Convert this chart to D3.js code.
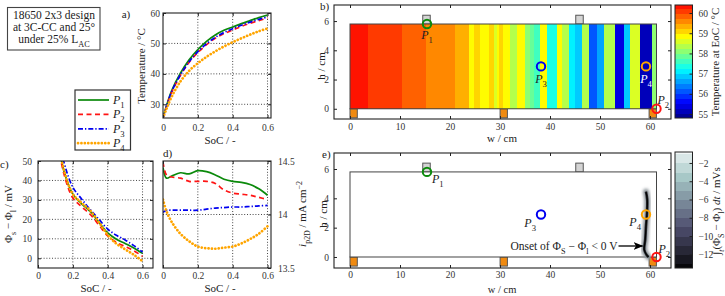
<!DOCTYPE html>
<html><head><meta charset="utf-8">
<script src="https://cdn.jsdelivr.net/npm/d3@7"></script>
<style>
html,body{margin:0;padding:0;background:#fff;}
svg{display:block;}
</style></head><body>
<svg id="chart" width="725" height="296"></svg>
<script>
// ---------------- data ----------------
const seriesNames = ['P1','P2','P3','P4'];
const socA   = [0,0.02,0.05,0.1,0.15,0.2,0.25,0.3,0.35,0.4,0.45,0.5,0.55,0.6];
const tempP1 = [25.5,29.5,34.5,40.2,44.6,48.0,50.7,52.8,54.3,55.4,56.5,57.5,58.5,59.3];
const tempP2 = [25.5,29.2,34.0,39.5,43.8,47.0,49.6,51.7,53.2,54.4,55.6,56.6,57.5,58.3];
const tempP3 = [25.5,29.3,34.2,39.7,44.0,47.3,49.9,52.0,53.6,54.8,56.0,57.0,57.9,58.7];
const tempP4 = [25.5,28.5,32.5,37.5,41.0,43.5,45.6,47.4,49.0,50.4,51.7,52.9,54.0,54.9];

const socC  = [0.10,0.15,0.2,0.25,0.3,0.35,0.4,0.45,0.5,0.55,0.6];
const phiP1 = [68,44.5,33,28,24,18.5,13,9.8,7.6,5.3,2.5];
const phiP2 = [66,43,31,26.5,22.5,17,11.5,8.2,6.0,3.9,1.0];
const phiP3 = [72,49,36.5,30.5,25,20,15,11.8,9.4,6.5,3.2];
const phiP4 = [68,45,33,28.5,24.5,18.5,12.0,7.5,4.6,1.8,-1.5];

const socD = [0,0.02,0.05,0.1,0.15,0.2,0.25,0.3,0.35,0.4,0.45,0.5,0.55,0.6];
const ipP1 = [14.44,14.34,14.36,14.39,14.38,14.41,14.40,14.37,14.33,14.31,14.30,14.28,14.24,14.18];
const ipP2 = [14.49,14.37,14.35,14.34,14.31,14.31,14.31,14.29,14.23,14.20,14.19,14.18,14.16,14.14];
const ipP3 = [14.02,14.04,14.04,14.04,14.04,14.04,14.05,14.06,14.065,14.07,14.07,14.075,14.08,14.085];
const ipP4 = [14.14,14.03,13.93,13.82,13.75,13.70,13.685,13.68,13.69,13.70,13.73,13.77,13.82,13.89];

// temperature at EoC, vertical bands along w (cm): band start and value (°C)
const stripeW = [0,3.5,10.3,15.2,21.0,23.7,24.7,26.0,27.7,28.7,29.3,29.7,30.5,32.0,33.3,35.0,36.0,36.7,38.0,39.3,41.3,42.3,43.7,45.0,46.3,47.7,49.3,50.7,53.0,54.7,56.0,58.0,60.3];
const stripeT = [60.4,60.1,59.9,59.6,59.35,58.95,59.15,58.9,59.1,58.6,58.9,59.2,58.9,58.4,58.85,58.2,57.9,57.6,58.9,57.4,58.9,58.3,57.1,56.8,58.4,56.1,56.7,58.4,55.4,56.9,58.5,55.1,58.2];
const cellW = 61.3, cellH = 5.8;
const topTabW = [15.3,45.9];
const bottomTabW = [0.73,30.75,60.55];
const pointW = [15.4,61.3,38.2,59.2];
const pointH = [5.8,0,2.9,2.9];
// region where Φs − Φl < 0 (integral streak)
const streakW = [59.2,59.45,59.4,59.2,59.05,58.85,59.3,59.7];
const streakH = [4.45,3.9,3.0,2.1,1.2,0.5,0.15,0.0];

const ticksSoC = [0,0.2,0.4,0.6];
const ticksTemp = [30,40,50,60];
const ticksPhi = [0,10,20,30,40,50];
const ticksIp = [13.5,14,14.5];
const ticksW = [0,10,20,30,40,50,60];
const ticksH = [0,2,4,6];
const ticksCbT = [55,56,57,58,59,60];
const ticksCbI = [-12,-10,-8,-6,-4,-2];

// ---------------- setup ----------------
const SERIF = '"Liberation Serif","Times New Roman",serif';
const svg = d3.select('#chart').attr('font-family', SERIF);
const defs = svg.append('defs');
const INK = '#222';

const styles = [
  {color:'#0b8a0b', dash:null, w:1.7, cap:'butt'},
  {color:'#ff1414', dash:'5,3.5', w:1.7, cap:'butt'},
  {color:'#0000f0', dash:'5,2,1.3,2', w:1.7, cap:'butt'},
  {color:'#ffa500', dash:'0.1,3.3', w:2.7, cap:'round'}
];

function rich(text, parts, size){
  let off = 0;
  parts.forEach(p => {
    const [t, k] = p;
    const target = k && k.includes('s') ? size*0.32 : (k && k.includes('u') ? -size*0.4 : 0);
    const ts = text.append('tspan').text(t).attr('dy', (target-off).toFixed(2));
    off = target;
    if (k && (k.includes('s')||k.includes('u'))) ts.attr('font-size', size*0.72);
    if (k && k.includes('i')) ts.attr('font-style','italic');
  });
  return text;
}
function label(x, y, parts, size, anchor, rot, fill){
  const t = svg.append('text').attr('font-size', size).attr('fill', fill||INK)
    .attr('text-anchor', anchor||'middle')
    .attr('transform', `translate(${x},${y})` + (rot ? ` rotate(${rot})` : ''));
  return rich(t, parts, size);
}
function clipRect(id, x, y){
  const [x0,x1] = x.range(), [yb,yt] = y.range();
  defs.append('clipPath').attr('id', id).append('rect')
    .attr('x', x0).attr('y', yt).attr('width', x1-x0).attr('height', yb-yt);
}
function frame(x, y){
  const [x0,x1] = x.range(), [yb,yt] = y.range();
  svg.append('rect').attr('x',x0).attr('y',yt).attr('width',x1-x0).attr('height',yb-yt)
    .attr('fill','none').attr('stroke',INK).attr('stroke-width',1.1);
}
function grid(x, y, xs, ys){
  const [x0,x1] = x.range(), [yb,yt] = y.range();
  const g = svg.append('g').attr('stroke','#333').attr('stroke-width',0.9).attr('stroke-dasharray','1,1.8');
  xs.forEach(v => g.append('line').attr('x1',x(v)).attr('x2',x(v)).attr('y1',yb).attr('y2',yt));
  ys.forEach(v => g.append('line').attr('y1',y(v)).attr('y2',y(v)).attr('x1',x0).attr('x2',x1));
}
function styleAxis(g){
  g.select('.domain').remove();
  g.attr('font-family', SERIF).attr('font-size', 9.5);
  g.selectAll('line').attr('stroke', INK);
  g.selectAll('text').attr('fill', '#333');
}
function axes(x, y, o){
  const [x0,x1] = x.range(), [yb,yt] = y.range();
  svg.append('g').attr('transform',`translate(0,${yb})`)
    .call(d3.axisBottom(x).tickValues(o.xt).tickSize(-3).tickPadding(o.xp).tickFormat(o.xf)).call(styleAxis);
  svg.append('g').attr('transform',`translate(0,${yt})`)
    .call(d3.axisTop(x).tickValues(o.xt).tickSize(-3).tickFormat('')).call(styleAxis);
  if (o.yt){
    svg.append('g').attr('transform',`translate(${x0},0)`)
      .call(d3.axisLeft(y).tickValues(o.yt).tickSize(-3).tickPadding(o.yp).tickFormat(o.yf||'')).call(styleAxis);
    svg.append('g').attr('transform',`translate(${x1},0)`)
      .call(d3.axisRight(y).tickValues(o.yt).tickSize(-3).tickFormat('')).call(styleAxis);
  }
}
const fSoC = d => d === 0 ? '0' : d3.format('.1f')(d);
function drawSeries(x, y, xs, ys, clipId){
  const g = svg.append('g').attr('clip-path', `url(#${clipId})`);
  ys.forEach((vals, i) => {
    const st = styles[i];
    const line = d3.line().x((d,j) => x(xs[j])).y(d => y(d)).curve(d3.curveCatmullRom.alpha(0.5));
    g.append('path').attr('d', line(vals)).attr('fill','none')
      .attr('stroke', st.color).attr('stroke-width', st.w)
      .attr('stroke-dasharray', st.dash).attr('stroke-linecap', st.cap);
  });
}

// ---------------- title box ----------------
svg.append('rect').attr('x',7.5).attr('y',7.5).attr('width',92.5).attr('height',42.5)
  .attr('fill','#fff').attr('stroke','#444').attr('stroke-width',1.1);
label(54, 18.5, [['18650 2x3 design']], 11.5);
label(54, 31, [['at 3C-CC and 25°']], 11.5);
label(54, 43, [['under 25% L'],['AC','s']], 11.5);

// ---------------- a) temperature ----------------
const xA = d3.scaleLinear([0,0.62],[163,271]);
const yA = d3.scaleLinear([25.5,60],[118,13]);
grid(xA, yA, [0.2,0.4,0.6], [30,40,50]);
clipRect('clipA', xA, yA);
drawSeries(xA, yA, socA, [tempP1,tempP2,tempP3,tempP4], 'clipA');
axes(xA, yA, {xt:ticksSoC, xp:6, xf:fSoC, yt:ticksTemp, yp:3, yf:d3.format('d')});
frame(xA, yA);
label(126, 18, [['a)']], 11);
label(220, 144, [['SoC / -']], 11);
label(145, 66, [['Temperature / °C']], 11, 'middle', -90);

// legend
svg.append('rect').attr('x',75).attr('y',90).attr('width',55.5).attr('height',60)
  .attr('fill','#fff').attr('stroke','#333').attr('stroke-width',1.2);
seriesNames.forEach((n, i) => {
  const yy = 100 + i*14.4, st = styles[i];
  svg.append('line').attr('x1',78).attr('x2',109).attr('y1',yy).attr('y2',yy)
    .attr('stroke',st.color).attr('stroke-width',st.w).attr('stroke-dasharray',st.dash).attr('stroke-linecap',st.cap);
  label(113, yy+4, [['P','i'],[n.slice(1),'s']], 12, 'start');
});

// ---------------- c) overpotential ----------------
const xC = d3.scaleLinear([0,0.66],[38,153]);
const yC = d3.scaleLinear([-5,50],[268,161]);
grid(xC, yC, [0.2,0.4,0.6], [0,10,20,30,40]);
clipRect('clipC', xC, yC);
drawSeries(xC, yC, socC, [phiP1,phiP2,phiP3,phiP4], 'clipC');
axes(xC, yC, {xt:ticksSoC, xp:4, xf:fSoC, yt:ticksPhi, yp:6, yf:d3.format('d')});
frame(xC, yC);
label(0, 168, [['c)']], 11, 'start');
label(96, 292, [['SoC / -']], 11);
label(12, 214, [['Φ'],['s','s'],[' − Φ'],['l','s'],[' / mV']], 11, 'middle', -90);

// ---------------- d) current density ----------------
const xD = d3.scaleLinear([0,0.62],[163,271]);
const yD = d3.scaleLinear([13.5,14.5],[268,161]);
grid(xD, yD, [0.2,0.4,0.6], [14]);
clipRect('clipD', xD, yD);
drawSeries(xD, yD, socD, [ipP1,ipP2,ipP3,ipP4], 'clipD');
axes(xD, yD, {xt:ticksSoC, xp:4, xf:fSoC});
svg.append('g').attr('transform',`translate(271,0)`)
  .call(d3.axisRight(yD).tickValues(ticksIp).tickSize(-3).tickPadding(7).tickFormat(d3.format('~g'))).call(styleAxis);
frame(xD, yD);
label(163, 157, [['d)']], 11, 'start');
label(220, 292, [['SoC / -']], 11);
label(306, 214, [['i','i'],['p2D','s'],[' / mA cm'],['−2','u']], 11, 'middle', -90);

// ---------------- b) temperature map ----------------
const xB = d3.scaleLinear([-3.2,64.2],[334,671]);
const yB = d3.scaleLinear([-0.7,7.1],[119,5]);
const jet = t => {
  const c = v => Math.max(0, Math.min(1, v));
  return d3.rgb(255*c(1.5-Math.abs(4*t-3)), 255*c(1.5-Math.abs(4*t-2)), 255*c(1.5-Math.abs(4*t-1))).formatHex();
};
const tLo = 54.75, tHi = 60.5, tStep = 0.25;
const nT = Math.round((tHi-tLo)/tStep);
const tempColor = d3.scaleQuantize().domain([tLo,tHi])
  .range(d3.range(nT).map(k => jet(0.875*(k+0.5)/nT)));

function cellTabs(x, y){
  topTabW.forEach(w => svg.append('rect').attr('x',x(w-0.75)).attr('y',y(cellH+0.6))
    .attr('width',x(w+0.75)-x(w-0.75)).attr('height',y(cellH)-y(cellH+0.6))
    .attr('fill','#d4d4d4').attr('stroke','#555').attr('stroke-width',1));
  bottomTabW.forEach(w => svg.append('rect').attr('x',x(w-0.73)).attr('y',y(0))
    .attr('width',x(w+0.73)-x(w-0.73)).attr('height',y(-0.62)-y(0))
    .attr('fill','#f08a10').attr('stroke','#555').attr('stroke-width',1));
}
cellTabs(xB, yB);
const gS = svg.append('g').attr('shape-rendering','crispEdges');
stripeW.forEach((w, i) => {
  const w1 = i < stripeW.length-1 ? stripeW[i+1] : cellW;
  gS.append('rect').attr('x', xB(w)).attr('y', yB(cellH))
    .attr('width', xB(w1)-xB(w)+0.4).attr('height', yB(0)-yB(cellH))
    .attr('fill', tempColor(stripeT[i]));
});
svg.append('rect').attr('x',xB(0)).attr('y',yB(cellH)).attr('width',xB(cellW)-xB(0)).attr('height',yB(0)-yB(cellH))
  .attr('fill','none').attr('stroke','#444').attr('stroke-width',1);
axes(xB, yB, {xt:ticksW, xp:4.5, xf:d3.format('d'), yt:ticksH, yp:5, yf:d3.format('d')});
frame(xB, yB);
label(320, 10, [['b)']], 11, 'start');
label(502, 142, [['w / cm']], 11);
label(325, 66, [['h / cm']], 11, 'middle', -90);

// points
function points(x, y, labels){
  pointW.forEach((w, i) => {
    svg.append('circle').attr('cx', x(w)).attr('cy', y(pointH[i])).attr('r', 4.2)
      .attr('fill','none').attr('stroke', styles[i].color).attr('stroke-width', 2);
    const L = labels[i];
    label(x(w)+L[0], y(pointH[i])+L[1], [['P','i'],[seriesNames[i].slice(1),'s']], 12, L[2], 0, L[3]);
  });
}
points(xB, yB, [[0,15,'middle'],[1,-5,'start'],[0,17,'middle'],[0,17,'middle','#fff']]);

// colorbar b
const cbB = d3.scaleLinear([54.8,60.4],[118,5]);
defs.append('clipPath').attr('id','clipCbB').append('rect').attr('x',675).attr('y',5).attr('width',17.5).attr('height',113);
const gCb = svg.append('g').attr('clip-path','url(#clipCbB)').attr('shape-rendering','crispEdges');
tempColor.range().forEach((c, k) => {
  const [a, b] = tempColor.invertExtent(c);
  gCb.append('rect').attr('x',675).attr('width',17.5).attr('y',cbB(b)).attr('height',cbB(a)-cbB(b)+0.5).attr('fill',c);
});
svg.append('rect').attr('x',675).attr('y',5).attr('width',17.5).attr('height',113).attr('fill','none').attr('stroke',INK);
svg.append('g').attr('transform','translate(692.5,0)')
  .call(d3.axisRight(cbB).tickValues(ticksCbT).tickSize(-3).tickPadding(6).tickFormat(d3.format('d'))).call(styleAxis);
label(719, 62, [['Temperature at EoC / °C']], 11, 'middle', -90);

// ---------------- e) integral map ----------------
const xE = d3.scaleLinear([-3.2,64.2],[334,671]);
const yE = d3.scaleLinear([-0.75,7.09],[268,153]);
cellTabs(xE, yE);
svg.append('rect').attr('x',xE(0)).attr('y',yE(cellH)).attr('width',xE(cellW)-xE(0)).attr('height',yE(0)-yE(cellH))
  .attr('fill','#fff').attr('stroke','#444').attr('stroke-width',1);
const blur1 = defs.append('filter').attr('id','blur1').attr('x','-50%').attr('y','-20%').attr('width','200%').attr('height','140%');
blur1.append('feGaussianBlur').attr('stdDeviation',1.6);
const blur2 = defs.append('filter').attr('id','blur2').attr('x','-50%').attr('y','-20%').attr('width','200%').attr('height','140%');
blur2.append('feGaussianBlur').attr('stdDeviation',0.6);
const streakLine = d3.line().x((d,j) => xE(streakW[j])).y(d => yE(d)).curve(d3.curveCatmullRom);
svg.append('path').attr('d', streakLine(streakH)).attr('fill','none').attr('stroke','#8a9298').attr('stroke-width',6).attr('filter','url(#blur1)').attr('stroke-linecap','round');
svg.append('path').attr('d', streakLine(streakH)).attr('fill','none').attr('stroke','#2a2d33').attr('stroke-width',2.6).attr('filter','url(#blur2)');
svg.append('path').attr('d', streakLine(streakH)).attr('fill','none').attr('stroke','#000').attr('stroke-width',1.2);
axes(xE, yE, {xt:ticksW, xp:3.5, xf:d3.format('d'), yt:ticksH, yp:5, yf:d3.format('d')});
frame(xE, yE);
label(322, 158, [['e)']], 11, 'start');
label(502, 292.5, [['w / cm']], 10.5);
label(327, 214, [['h / cm']], 11, 'middle', -90);
points(xE, yE, [[5,11,'start'],[2,-4,'start'],[-5,13,'end'],[-5,12,'end']]);

// annotation arrow
const mk = defs.append('marker').attr('id','arr').attr('viewBox','0 0 10 8').attr('refX',9).attr('refY',4)
  .attr('markerWidth',10).attr('markerHeight',8).attr('markerUnits','userSpaceOnUse').attr('orient','auto');
mk.append('path').attr('d','M0,0 L10,4 L0,8 L2.5,4 Z').attr('fill','#000');
const arrowH = 0.75;
svg.append('line').attr('x1', xE(53.7)).attr('x2', xE(58.5)).attr('y1', yE(arrowH)).attr('y2', yE(arrowH))
  .attr('stroke','#000').attr('stroke-width',1.3).attr('marker-end','url(#arr)');
label(xE(53.5), yE(arrowH)+4, [['Onset of Φ'],['S','s'],[' − Φ'],['l','s'],[' < 0 V']], 11.5, 'end');

// colorbar e
const cbE = d3.scaleLinear([-13.5,-0.8],[268,152]);
const bone = d3.scaleLinear().domain([0,0.365,0.746,1]).range(['#000000','#515171','#a6c7c6','#ffffff']);
const intColor = d3.scaleQuantize().domain([-14,0]).range(d3.range(14).map(k => bone((k+0.5)/14)));
defs.append('clipPath').attr('id','clipCbE').append('rect').attr('x',675).attr('y',152).attr('width',17.5).attr('height',116);
const gCe = svg.append('g').attr('clip-path','url(#clipCbE)').attr('shape-rendering','crispEdges');
intColor.range().forEach(c => {
  const [a, b] = intColor.invertExtent(c);
  gCe.append('rect').attr('x',675).attr('width',17.5).attr('y',cbE(b)).attr('height',cbE(a)-cbE(b)+0.5).attr('fill',c);
});
svg.append('rect').attr('x',675).attr('y',152).attr('width',17.5).attr('height',116).attr('fill','none').attr('stroke',INK);
svg.append('g').attr('transform','translate(692.5,0)')
  .call(d3.axisRight(cbE).tickValues(ticksCbI).tickSize(-3).tickPadding(6).tickFormat(d3.format('d'))).call(styleAxis);
label(720, 211, [['∫'],['t','si'],['(Φ'],['S','s'],[' − Φ'],['l','s'],[') '],['dt','i'],[' / mVs']], 11, 'middle', -90);
</script>
</body></html>
